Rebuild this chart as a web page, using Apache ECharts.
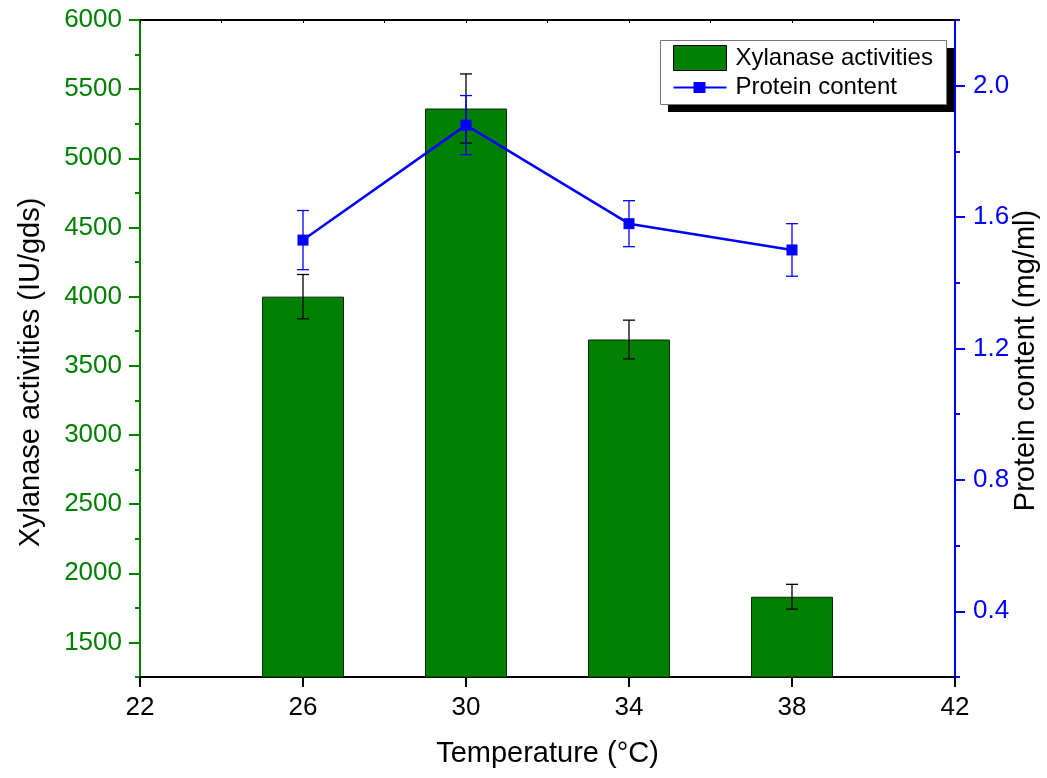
<!DOCTYPE html>
<html>
<head>
<meta charset="utf-8">
<script src="https://cdn.jsdelivr.net/npm/echarts@6/dist/echarts.min.js"></script>
<style>
  html, body { margin: 0; padding: 0; background: #fff; }
  #chart { width: 1047px; height: 778px; }
</style>
</head>
<body>
<div id="chart"></div>
<script>
// Temperatures (°C) tested
const temperatures = [26, 30, 34, 38];
// Xylanase activity (IU/gds) with standard deviations
const xylanase = [4000, 5360, 3690, 1830];
const xylanaseErr = [160, 250, 140, 90];
// Protein content (mg/ml) with standard deviations
const protein = [1.53, 1.88, 1.58, 1.50];
const proteinErr = [0.09, 0.09, 0.07, 0.08];

// Tick label positions
const xLabels = [22, 26, 30, 34, 38, 42];
const leftLabels = [1500, 2000, 2500, 3000, 3500, 4000, 4500, 5000, 5500, 6000];
const rightLabels = [0.4, 0.8, 1.2, 1.6, 2.0];

const FONT = 'Liberation Sans, Arial, sans-serif';
const GREEN = '#008000';
const BLUE = '#0000ff';

const barData = temperatures.map((t, i) => [t, xylanase[i]]);
const barErrData = temperatures.map((t, i) => [t, xylanase[i], xylanaseErr[i]]);
const lineData = temperatures.map((t, i) => [t, protein[i]]);
const lineErrData = temperatures.map((t, i) => [t, protein[i], proteinErr[i]]);

// Vertical error bar with end caps, placed through the axis scales
function errorBar(color, capHalf, width) {
  return function (params, api) {
    const x = api.value(0), y = api.value(1), e = api.value(2);
    const top = api.coord([x, y + e]);
    const bot = api.coord([x, y - e]);
    const style = { stroke: color, lineWidth: width };
    return {
      type: 'group',
      children: [
        { type: 'line', shape: { x1: top[0], y1: top[1], x2: bot[0], y2: bot[1] }, style },
        { type: 'line', shape: { x1: top[0] - capHalf, y1: top[1], x2: top[0] + capHalf, y2: top[1] }, style },
        { type: 'line', shape: { x1: bot[0] - capHalf, y1: bot[1], x2: bot[0] + capHalf, y2: bot[1] }, style }
      ]
    };
  };
}

const chart = echarts.init(document.getElementById('chart'), null, { renderer: 'canvas' });

chart.setOption({
  animation: false,
  backgroundColor: '#fff',
  textStyle: { fontFamily: FONT },
  grid: { left: 140, right: 92, top: 20, bottom: 101, containLabel: false, outerBoundsMode: 'none' },
  // Legend frame with a solid drop shadow
  graphic: [
    { type: 'rect', z: 10, shape: { x: 668, y: 48, width: 286, height: 64 }, style: { fill: '#000' } },
    { type: 'rect', z: 11, shape: { x: 660.5, y: 40.5, width: 286, height: 64 }, style: { fill: '#fff', stroke: '#777', lineWidth: 1 } }
  ],
  legend: {
    left: 673, top: 45, z: 20,
    orient: 'vertical',
    padding: 0,
    itemGap: 4,
    itemWidth: 53, itemHeight: 25,
    textStyle: { fontFamily: FONT, fontSize: 24, color: '#000', padding: [0, 0, 0, 4] },
    data: [
      { name: 'Xylanase activities', icon: 'rect', itemStyle: { color: GREEN, borderColor: '#000', borderWidth: 1 } },
      { name: 'Protein content',
        icon: 'path://M0,0 L53,0 Z M0,11.5 L20,11.5 L20,7 L32,7 L32,11.5 L53,11.5 L53,13.5 L32,13.5 L32,18 L20,18 L20,13.5 L0,13.5 Z M0,25 L53,25 Z',
        itemStyle: { color: BLUE, borderWidth: 0 } }
    ]
  },
  xAxis: [
    {
      type: 'value', min: 22, max: 42, interval: 4,
      name: 'Temperature (°C)', nameLocation: 'middle', nameGap: 62, nameMoveOverlap: false,
      nameTextStyle: { fontFamily: FONT, fontSize: 29, color: '#000' },
      axisLine: { lineStyle: { color: '#000', width: 2 } },
      axisTick: { customValues: xLabels, length: 10, lineStyle: { color: '#000', width: 2 } },
      axisLabel: { customValues: xLabels, fontFamily: FONT, fontSize: 26, color: '#000', margin: 18 },
      splitLine: { show: false }
    },
    {
      type: 'value', position: 'top', min: 22, max: 42, interval: 2,
      axisLine: { lineStyle: { color: '#000', width: 2 } },
      axisTick: { inside: true, length: 3, lineStyle: { color: '#000', width: 1 } },
      axisLabel: { show: false },
      splitLine: { show: false }
    }
  ],
  yAxis: [
    {
      type: 'value', position: 'left', min: 1250, max: 6000,
      name: 'Xylanase activities (IU/gds)', nameLocation: 'middle', nameGap: 95, nameRotate: 90, nameMoveOverlap: false,
      nameTextStyle: { fontFamily: FONT, fontSize: 29, color: '#000', padding: [0, 48, 0, 0] },
      axisLine: { show: true, lineStyle: { color: GREEN, width: 2 } },
      axisTick: { show: true, customValues: leftLabels, length: 11, lineStyle: { color: GREEN, width: 2 } },
      axisLabel: { customValues: leftLabels, fontFamily: FONT, fontSize: 26, color: GREEN, margin: 18,
        formatter: v => String(Math.round(v)) },
      splitLine: { show: false }
    },
    {
      type: 'value', position: 'right', min: 0.2, max: 2.2,
      name: 'Protein content (mg/ml)', nameLocation: 'middle', nameGap: 56, nameRotate: 90, nameMoveOverlap: false,
      nameTextStyle: { fontFamily: FONT, fontSize: 29, color: '#000', padding: [0, 24, 0, 0] },
      axisLine: { show: true, lineStyle: { color: BLUE, width: 2 } },
      axisTick: { show: true, customValues: rightLabels, length: 10, lineStyle: { color: BLUE, width: 2 } },
      axisLabel: { customValues: rightLabels, fontFamily: FONT, fontSize: 26, color: BLUE, margin: 18,
        formatter: v => Number(v).toFixed(1) },
      splitLine: { show: false }
    },
    {
      type: 'value', position: 'left', min: 1250, max: 6000, interval: 250,
      axisLine: { show: false },
      axisTick: { show: true, length: 5, lineStyle: { color: GREEN, width: 2 } },
      axisLabel: { show: false },
      splitLine: { show: false }
    },
    {
      type: 'value', position: 'right', min: 0.2, max: 2.2, interval: 0.2,
      axisLine: { show: false },
      axisTick: { show: true, length: 5, lineStyle: { color: BLUE, width: 2 } },
      axisLabel: { show: false },
      splitLine: { show: false }
    }
  ],
  series: [
    {
      name: 'Xylanase activities', type: 'bar', xAxisIndex: 0, yAxisIndex: 0,
      data: barData, barWidth: 82,
      itemStyle: { color: GREEN, borderColor: '#0a2a0a', borderWidth: 1 },
      z: 2
    },
    {
      name: 'xylanase-sd', type: 'custom', xAxisIndex: 0, yAxisIndex: 0,
      data: barErrData, encode: { x: 0, y: 1 },
      renderItem: errorBar('#000', 6, 1.3), z: 3
    },
    {
      name: 'protein-sd', type: 'custom', xAxisIndex: 0, yAxisIndex: 1,
      data: lineErrData, encode: { x: 0, y: 1 },
      renderItem: errorBar(BLUE, 6, 1.3), z: 4
    },
    {
      name: 'Protein content', type: 'line', xAxisIndex: 0, yAxisIndex: 1,
      data: lineData, symbol: 'rect', symbolSize: 11,
      lineStyle: { color: BLUE, width: 2.5 },
      itemStyle: { color: BLUE },
      z: 5
    }
  ]
});
</script>
</body>
</html>
